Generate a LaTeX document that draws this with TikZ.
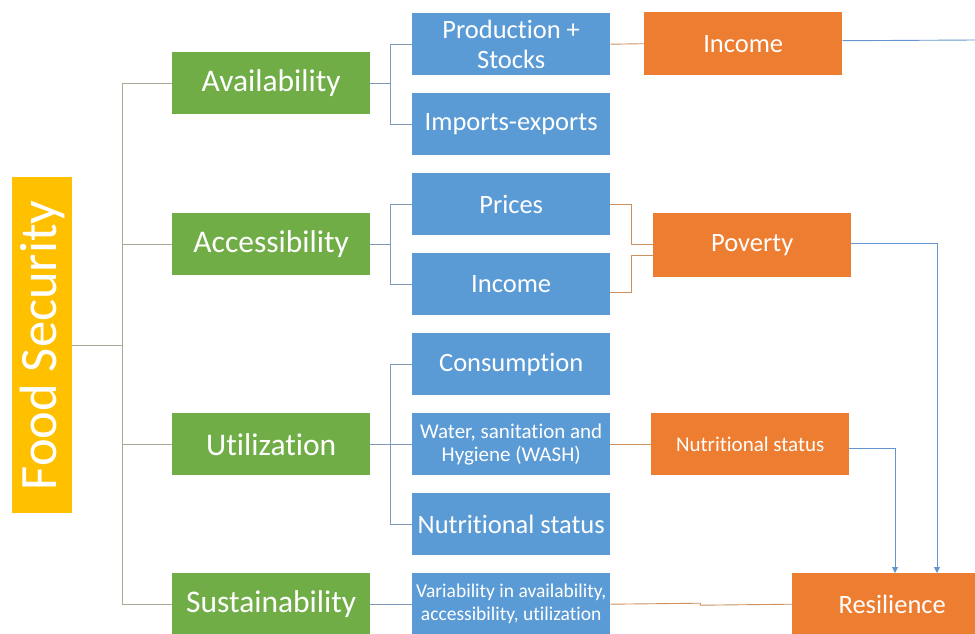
\documentclass[tikz,border=0pt]{standalone}
\usepackage{fontspec}
\setmainfont{Carlito}[Ligatures=NoCommon]
\usetikzlibrary{arrows.meta,calc}
\definecolor{fsgold}{RGB}{255,192,0}
\definecolor{pillar}{RGB}{112,173,71}
\definecolor{factor}{RGB}{91,155,213}
\definecolor{driver}{RGB}{237,125,49}
\definecolor{trunkline}{RGB}{165,170,145}
\definecolor{branchline}{RGB}{125,155,185}
\definecolor{driverline}{RGB}{205,145,95}
\definecolor{arrowline}{RGB}{100,150,205}
\begin{document}
\begin{tikzpicture}[x=1pt,y=-1pt,
  box/.style={anchor=north west, inner sep=0pt, text=white, align=center,
              minimum width=198pt, minimum height=62pt},
  pillarbox/.style={box, fill=pillar, font=\fontsize{31.5}{36}\selectfont},
  factorbox/.style={box, fill=factor, font=\fontsize{26.5}{30}\selectfont},
  driverbox/.style={box, fill=driver, font=\fontsize{26.5}{30}\selectfont},
  trunk/.style={draw=trunkline, line width=0.9pt},
  branch/.style={draw=branchline, line width=0.9pt},
  link/.style={draw=driverline, line width=0.9pt},
  flow/.style={draw=arrowline, line width=0.9pt, -{Triangle[width=6pt,length=6pt]}}]
\useasboundingbox (0,0) rectangle (975,633);
\clip (0,0) rectangle (975,633);

% root
\node[box, fill=fsgold, minimum width=60pt, minimum height=336pt] (fs) at (12,177) {};
\node[text=white, rotate=90, font=\fontsize{52.5}{60}\selectfont] (fslabel) at (fs.center) {Food Security};

% pillars
\node[pillarbox] (avail) at (172,52)  {Availability};
\node[pillarbox] (acc)   at (172,213) {Accessibility};
\node[pillarbox] (util)  at (172,413) {Utilization};
\node[pillarbox] (sust)  at (172,573) {Sustainability};

% factors
\node[factorbox] (prod)  at (412,13)  {Production +\\Stocks};
\node[factorbox] (imp)   at (412,93)  {Imports-exports};
\node[factorbox] (price) at (412,173) {Prices};
\node[factorbox] (incf)  at (412,253) {Income};
\node[factorbox] (cons)  at (412,333) {Consumption};
\node[factorbox, font=\fontsize{21}{23}\selectfont] (wash) at (412,413) {Water, sanitation and\\Hygiene (WASH)};
\node[factorbox] (nutf)  at (412,493) {Nutritional status};
\node[factorbox, font=\fontsize{19.5}{23}\selectfont] (var) at (412,573) {Variability in availability,\\accessibility, utilization};

% drivers
\node[driverbox, minimum height=63pt] (incd) at (644,12)  {Income};
\node[driverbox, minimum height=64pt] (pov)  at (653,213) {Poverty};
\node[driverbox, font=\fontsize{21}{24}\selectfont] (nutd) at (651,413) {Nutritional status};
\node[driverbox, minimum width=200pt] (res) at (792,573) {Resilience};

% root to pillars
\draw[trunk] (fs.east) -- ++(50,0);
\draw[trunk] (avail.west) -- ++(-50,0) |- (sust.west);
\draw[trunk] (acc.west) -- ++(-50,0);
\draw[trunk] (util.west) -- ++(-50,0);

% pillars to factors
\draw[branch] (avail.east) -- ++(20,0);
\draw[branch] (prod.west) -- ++(-22,0) |- (imp.west);
\draw[branch] (acc.east) -- ++(20,0);
\draw[branch] (price.west) -- ++(-22,0) |- (incf.west);
\draw[branch] (util.east) -- (wash.west);
\draw[branch] (cons.west) -- ++(-22,0) |- (nutf.west);
\draw[branch] (sust.east) -- (var.west);

% factors to drivers
\draw[link] (prod.east) -- (incd.west);
\draw[link] (price.east) -- ++(21,0) |- ($(pov.west)+(0,-1)$);
\draw[link] ($(incf.east)+(0,8)$) -- ++(21,0) |- ($(pov.west)+(0,10)$);
\draw[link] (wash.east) -- (nutd.west);
\draw[link] (var.east) -- ++(90,-1) -- ++(0,2) -- (res.west);

% drivers onward
\coordinate (edge) at (975,40);
\draw[arrowline, line width=0.9pt] ($(incd.east)+(0,-3)$) -- (edge);
\draw[flow] ($(pov.east)+(0,-2)$) -| ($(res.north west)+(145,0)$);
\draw[flow] ($(nutd.east)+(0,4)$) -| ($(res.north west)+(103,0)$);
\end{tikzpicture}
\end{document}
